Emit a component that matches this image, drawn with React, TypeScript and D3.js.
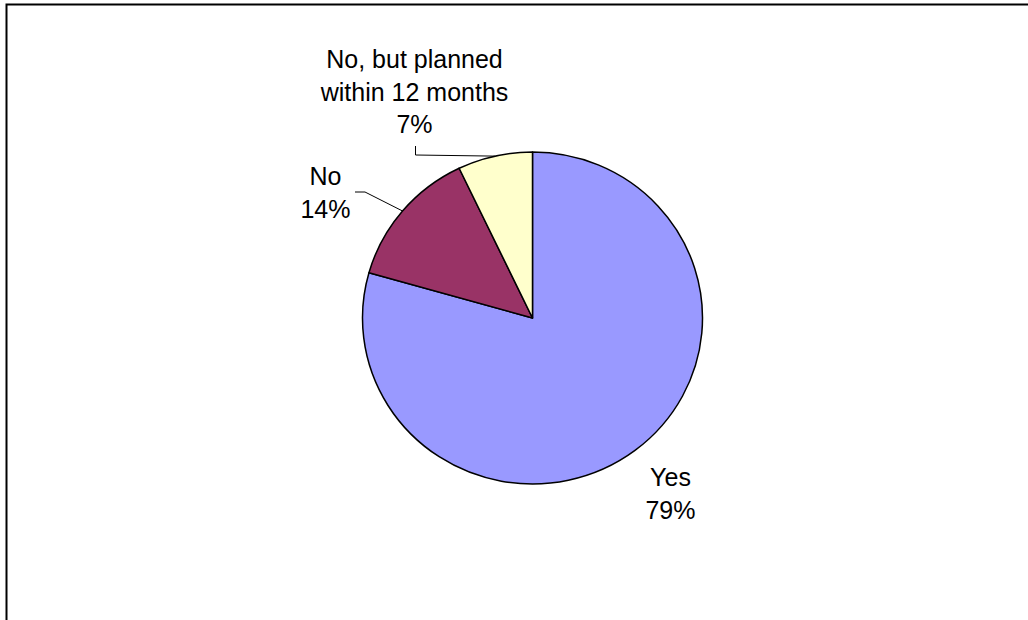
import React from "react";
import * as d3 from "d3";

const categories = ["Yes", "No", "No, but planned within 12 months"];
const values = [79.4, 13.5, 7.1];
const labelLines = [["Yes"], ["No"], ["No, but planned", "within 12 months"]];
const colors = ["#9999FF", "#993366", "#FFFFCC"];

const W = 1028;
const H = 620;
const CX = 532.5;
const CY = 318;
const RY = 166;
const RX = 170;
const FONT = 25;
const LH = 32.7;

// label layout (x center, first baseline), leader start/elbow
const labelLayout = [
  { x: 670.5, y: 486, leader: null as null | number[][] },
  { x: 325.5, y: 185, leader: [[355, 192], [365, 192]] },
  { x: 414.5, y: 68, leader: [[415.5, 146], [415.5, 155]] },
];

export default function App() {
  const total = d3.sum(values);
  const pie = d3
    .pie<number>()
    .sort(null)
    .value((d) => d)
    .startAngle(0)
    .endAngle(2 * Math.PI);
  const arcs = pie(values);
  const arc = d3.arc<d3.PieArcDatum<number>>().innerRadius(0).outerRadius(RY);
  const sx = RX / RY;

  return (
    <svg
      width={W}
      height={H}
      style={{ position: "absolute", left: 0, top: 0, background: "#fff" }}
      fontFamily="'Liberation Sans', Arial, sans-serif"
    >
      <rect x={6.5} y={4.5} width={W + 20} height={H + 20} fill="#fff" stroke="#000" strokeWidth={2} />
      <g transform={`translate(${CX},${CY}) scale(${sx},1)`}>
        {arcs.map((a, i) => (
          <path
            key={categories[i]}
            d={arc(a) || ""}
            fill={colors[i]}
            stroke="#000"
            strokeWidth={1.5}
            strokeLinejoin="round"
            vectorEffect="non-scaling-stroke"
          />
        ))}
      </g>
      {arcs.map((a, i) => {
        const lay = labelLayout[i];
        const mid = (a.startAngle + a.endAngle) / 2;
        const ex = CX + RX * Math.sin(mid);
        const ey = CY - RY * Math.cos(mid);
        const pct = Math.round((values[i] / total) * 100) + "%";
        const lines = [...labelLines[i], pct];
        return (
          <g key={"l" + i}>
            {lay.leader && (
              <polyline
                points={[...lay.leader, [ex, ey]].map((p) => p.join(",")).join(" ")}
                fill="none"
                stroke="#000"
                strokeWidth={1}
              />
            )}
            <text textAnchor="middle" fontSize={FONT} fill="#000">
              {lines.map((t, j) => (
                <tspan key={j} x={lay.x} y={lay.y + j * LH}>
                  {t}
                </tspan>
              ))}
            </text>
          </g>
        );
      })}
    </svg>
  );
}
